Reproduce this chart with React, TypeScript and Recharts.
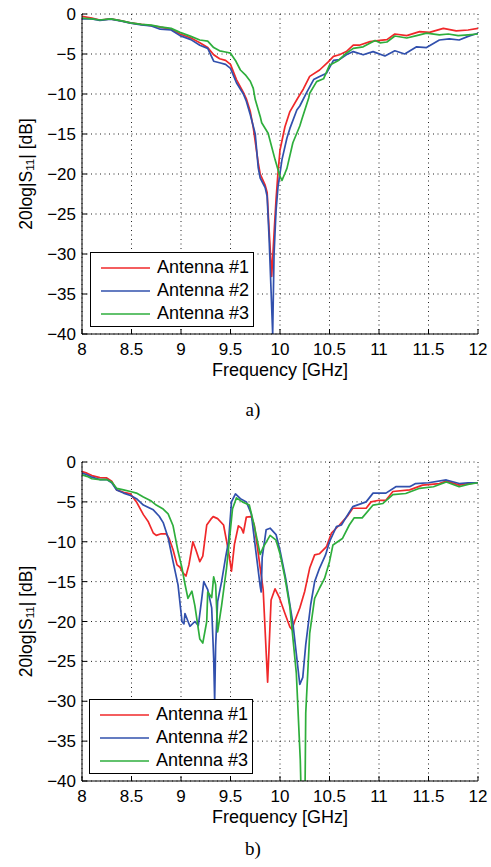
import React from 'react';
import { LineChart, Line, XAxis, YAxis, CartesianGrid, Legend } from 'recharts';

const xTicks = [8, 8.5, 9, 9.5, 10, 10.5, 11, 11.5, 12];
const yTicks = [0, -5, -10, -15, -20, -25, -30, -35, -40];
const seriesNames = ['Antenna #1', 'Antenna #2', 'Antenna #3'];
const seriesColors = ['#f0282a', '#3150ad', '#2eae3c'];
const xLabel = 'Frequency [GHz]';
const panelCaptions = ['a)', 'b)'];

// Panel a) — [frequency GHz, 20log|S11| dB]
const topAntenna1: number[][] = [
  [8.0, -0.3], [8.1, -0.5], [8.18, -0.75], [8.29, -0.6], [8.4, -0.85], [8.49, -1.1], [8.6, -1.3],
  [8.7, -1.45], [8.79, -1.65], [8.9, -1.9], [8.99, -2.5], [9.1, -3.0], [9.19, -3.6], [9.27, -4.2],
  [9.33, -5.1], [9.39, -5.6], [9.45, -5.8], [9.5, -6.3], [9.56, -8.2], [9.63, -9.8], [9.66, -10.6],
  [9.7, -12.2], [9.73, -14.2], [9.78, -18.6], [9.8, -20.0], [9.85, -21.4], [9.87, -22.3], [9.89, -27],
  [9.916, -32.8], [9.94, -27.4], [9.96, -23.2], [9.977, -20.3], [10.0, -17.0], [10.05, -14.1],
  [10.1, -12.2], [10.18, -10.5], [10.235, -9.4], [10.3, -7.8], [10.4, -7.0], [10.49, -5.95],
  [10.54, -5.3], [10.6, -5.1], [10.67, -4.7], [10.74, -3.9], [10.8, -3.9], [10.91, -3.45],
  [11.01, -3.3], [11.08, -3.2], [11.16, -2.5], [11.28, -2.7], [11.41, -2.2], [11.51, -2.3],
  [11.65, -1.8], [11.78, -2.1], [11.9, -2.0], [12.0, -1.8],
];
const topAntenna2: number[][] = [
  [8.0, -0.6], [8.1, -0.6], [8.18, -0.8], [8.29, -0.65], [8.4, -0.9], [8.49, -1.15], [8.6, -1.35],
  [8.7, -1.5], [8.79, -1.9], [8.9, -2.0], [8.99, -2.7], [9.1, -3.2], [9.19, -3.9], [9.27, -4.3],
  [9.33, -5.9], [9.39, -6.1], [9.45, -6.3], [9.5, -6.8], [9.56, -8.6], [9.63, -10.0], [9.66, -10.9],
  [9.7, -12.6], [9.75, -15], [9.78, -19.2], [9.8, -20.5], [9.85, -21.7], [9.87, -22.8], [9.89, -28],
  [9.926, -40], [9.94, -30], [9.96, -24.6], [9.98, -21.6], [10.02, -18.2], [10.07, -15.5],
  [10.1, -14.3], [10.17, -12.0], [10.2, -11.5], [10.27, -9.8], [10.34, -8.2], [10.4, -7.8],
  [10.47, -7.4], [10.54, -5.8], [10.6, -5.7], [10.67, -5.1], [10.74, -4.7], [10.84, -5.1],
  [10.94, -4.7], [11.06, -5.25], [11.16, -4.6], [11.26, -5.0], [11.38, -4.1], [11.48, -4.2],
  [11.61, -3.25], [11.71, -3.1], [11.81, -3.25], [11.9, -2.8], [12.0, -2.4],
];
const topAntenna3: number[][] = [
  [8.0, -0.5], [8.1, -0.6], [8.18, -0.75], [8.29, -0.6], [8.4, -0.85], [8.49, -1.1], [8.6, -1.3],
  [8.7, -1.4], [8.79, -1.6], [8.9, -1.8], [8.99, -2.3], [9.1, -2.8], [9.19, -3.25], [9.27, -3.4],
  [9.33, -4.2], [9.39, -4.6], [9.45, -4.75], [9.5, -4.9], [9.55, -5.8], [9.6, -7.0], [9.65, -7.6],
  [9.7, -8.4], [9.73, -9.3], [9.75, -10.7], [9.8, -12.8], [9.815, -13.6], [9.88, -14.9],
  [9.95, -18.2], [10.0, -20.3], [10.02, -20.8], [10.05, -19.9], [10.07, -19.3], [10.13, -16.1],
  [10.2, -14.0], [10.22, -13.2], [10.29, -10.5], [10.3, -9.9], [10.37, -8.45], [10.44, -8.1],
  [10.5, -6.4], [10.59, -5.8], [10.67, -4.9], [10.74, -4.3], [10.84, -4.1], [10.96, -3.3],
  [11.01, -3.6], [11.08, -3.5], [11.16, -2.75], [11.28, -3.0], [11.38, -2.7], [11.48, -2.4],
  [11.61, -2.6], [11.7, -2.5], [11.8, -2.7], [11.9, -2.6], [12.0, -2.5],
];

// Panel b)
const bottomAntenna1: number[][] = [
  [8.0, -1.2], [8.05, -1.4], [8.1, -1.7], [8.18, -1.95], [8.25, -2.0], [8.3, -2.4], [8.35, -3.5],
  [8.42, -3.8], [8.49, -4.0], [8.55, -5.0], [8.62, -6.6], [8.67, -7.5], [8.72, -8.9], [8.75, -9.2],
  [8.8, -9.0], [8.85, -9.0], [8.88, -9.6], [8.92, -11.0], [8.96, -12.9], [8.99, -13.2], [9.02, -13.9],
  [9.05, -14.3], [9.08, -12.9], [9.12, -10.0], [9.15, -11.0], [9.19, -12.5], [9.22, -11.8],
  [9.26, -7.9], [9.3, -7.2], [9.325, -6.85], [9.37, -7.1], [9.43, -7.9], [9.48, -11.2], [9.51, -13.7],
  [9.54, -10.3], [9.58, -8.0], [9.61, -8.3], [9.63, -8.9], [9.66, -6.9], [9.71, -6.85], [9.74, -7.9],
  [9.77, -10.5], [9.8, -13.3], [9.83, -16.0], [9.86, -23.8], [9.875, -27.6], [9.91, -17.3],
  [9.95, -15.9], [9.99, -16.9], [10.05, -19.0], [10.1, -20.7], [10.12, -21.0], [10.15, -19.9],
  [10.2, -18.3], [10.25, -16.2], [10.3, -13.3], [10.35, -11.65], [10.4, -11.5], [10.47, -10.6],
  [10.52, -8.9], [10.6, -7.9], [10.68, -6.8], [10.735, -5.8], [10.87, -5.8], [10.92, -5.0],
  [11.0, -4.8], [11.07, -4.8], [11.14, -3.7], [11.31, -3.5], [11.44, -2.9], [11.61, -2.7],
  [11.68, -2.4], [11.81, -2.9], [11.9, -2.7], [12.0, -2.6],
];
const bottomAntenna2: number[][] = [
  [8.0, -1.4], [8.05, -1.6], [8.1, -1.9], [8.18, -2.2], [8.25, -2.2], [8.3, -2.6], [8.35, -3.5],
  [8.42, -3.9], [8.49, -4.2], [8.55, -4.6], [8.62, -5.4], [8.72, -6.0], [8.78, -6.8], [8.82, -7.6],
  [8.87, -9.5], [8.92, -12.5], [8.97, -15.4], [9.01, -20.0], [9.03, -20.3], [9.04, -19.0],
  [9.09, -20.6], [9.14, -20.0], [9.175, -20.5], [9.21, -17.1], [9.23, -15.0], [9.27, -16.0],
  [9.31, -18.3], [9.33, -24.6], [9.34, -30], [9.35, -23], [9.37, -17.5], [9.41, -15.0], [9.45, -12.0],
  [9.48, -10.0], [9.51, -5.0], [9.55, -4.0], [9.6, -4.6], [9.66, -5.0], [9.71, -6.5], [9.76, -11.6],
  [9.8, -15.6], [9.81, -16.3], [9.82, -12.0], [9.86, -8.5], [9.9, -8.3], [9.96, -9.1], [10.0, -11.1],
  [10.06, -14.8], [10.13, -20.2], [10.2, -27.9], [10.23, -27], [10.26, -22.9], [10.31, -17.9],
  [10.35, -15.0], [10.4, -13.3], [10.46, -11.65], [10.5, -10.0], [10.57, -8.1], [10.62, -7.9],
  [10.735, -5.6], [10.87, -5.0], [10.94, -3.9], [11.07, -3.9], [11.17, -3.1], [11.31, -3.1],
  [11.37, -2.7], [11.5, -2.6], [11.68, -2.25], [11.81, -2.7], [11.9, -2.6], [12.0, -2.6],
];
const bottomAntenna3: number[][] = [
  [8.0, -1.6], [8.05, -1.8], [8.1, -2.1], [8.18, -2.2], [8.25, -2.2], [8.3, -2.5], [8.35, -3.3],
  [8.42, -3.5], [8.49, -3.7], [8.55, -3.9], [8.62, -4.4], [8.7, -4.9], [8.75, -5.4], [8.82, -5.9],
  [8.87, -6.5], [8.92, -8.0], [8.97, -11.2], [9.01, -13.3], [9.04, -15.3], [9.07, -17.1],
  [9.11, -16.2], [9.14, -18.0], [9.19, -22.2], [9.22, -22.7], [9.26, -20], [9.27, -16.3],
  [9.31, -17], [9.33, -14.4], [9.35, -15.4], [9.37, -21.3], [9.41, -18], [9.46, -13.3], [9.49, -9.6],
  [9.52, -5.9], [9.56, -4.5], [9.62, -5.0], [9.69, -5.4], [9.74, -8.0], [9.8, -11.6], [9.83, -10.7],
  [9.9, -9.2], [9.96, -9.8], [10.0, -11.5], [10.05, -14.5], [10.1, -18.2], [10.165, -26.5],
  [10.205, -37.4], [10.22, -45], [10.25, -45], [10.26, -31.5], [10.3, -21.5], [10.35, -17.1],
  [10.4, -15.8], [10.45, -14.6], [10.5, -12.5], [10.535, -10.4], [10.63, -9.6], [10.7, -7.9],
  [10.75, -7.0], [10.83, -7.0], [10.94, -5.4], [11.04, -5.2], [11.14, -4.1], [11.27, -3.95],
  [11.41, -3.3], [11.55, -3.1], [11.68, -2.5], [11.81, -3.1], [11.9, -2.8], [12.0, -2.6],
];

const FONT = '"Liberation Sans", Arial, Helvetica, sans-serif';

const toData = (pts: number[][]) => pts.map(([f, db]) => ({ f, db }));
const fmtY = (v: number) => (v < 0 ? `\u2212${-v}` : `${v}`);

const YLabel = (props: any) => {
  const vb = props.viewBox || { x: 0, y: 0, width: 82, height: 320 };
  const cx = vb.x + 26;
  const cy = vb.y + vb.height / 2;
  return (
    <text
      x={cx}
      y={cy}
      transform={`rotate(-90, ${cx}, ${cy})`}
      textAnchor="middle"
      dominantBaseline="central"
      fontFamily={FONT}
      fontSize={17.5}
      fill="#000"
    >
      <tspan>20log|S</tspan>
      <tspan fontSize={11.5} dy={4}>11</tspan>
      <tspan dy={-4}>| [dB]</tspan>
    </text>
  );
};

const XLabel = (props: any) => {
  const vb = props.viewBox || { x: 82, y: 334, width: 396, height: 50 };
  return (
    <text
      x={vb.x + vb.width / 2}
      y={vb.y + 42}
      textAnchor="middle"
      fontFamily={FONT}
      fontSize={18}
      fill="#000"
    >
      {xLabel}
    </text>
  );
};

const LegendBox = (props: any) => {
  const payload = (props.payload && props.payload.length === 3)
    ? props.payload.map((p: any) => ({ name: p.value, color: p.color }))
    : seriesNames.map((n, i) => ({ name: n, color: seriesColors[i] }));
  return (
    <div
      style={{
        width: 164,
        height: 75,
        boxSizing: 'border-box',
        border: '1.5px solid #000',
        background: '#fff',
        paddingTop: 3,
        fontFamily: FONT,
        fontSize: 18,
        color: '#000',
      }}
    >
      {payload.map((p: any) => (
        <div key={p.name} style={{ height: 23, display: 'flex', alignItems: 'center' }}>
          <svg width={66} height={6} style={{ display: 'block', flex: '0 0 auto' }}>
            <line x1={10} x2={59} y1={3} y2={3} stroke={p.color} strokeWidth={1.7} />
          </svg>
          <span style={{ lineHeight: '23px', whiteSpace: 'nowrap' }}>{p.name}</span>
        </div>
      ))}
    </div>
  );
};

type PanelProps = {
  series: number[][][];
  top: number;
  height: number;
  marginTop: number;
  marginBottom: number;
  legendTop: number;
  legendLeft: number;
};

const Panel = ({ series, top, height, marginTop, marginBottom, legendTop, legendLeft }: PanelProps) => (
  <div style={{ position: 'absolute', left: 0, top, width: 491, height }}>
    <LineChart
      width={491}
      height={height}
      margin={{ top: marginTop, right: 13, bottom: marginBottom, left: 0 }}
    >
      <CartesianGrid stroke="#222" strokeDasharray="1 3.5" strokeWidth={1} />
      <XAxis
        dataKey="f"
        type="number"
        domain={[8, 12]}
        ticks={xTicks}
        interval={0}
        allowDataOverflow
        height={50}
        tickSize={-5}
        tickMargin={14}
        axisLine={{ stroke: '#000', strokeWidth: 1 }}
        tickLine={{ stroke: '#000' }}
        tick={{ fill: '#000', fontSize: 17, fontFamily: FONT }}
        label={<XLabel />}
      />
      <XAxis
        xAxisId="top"
        orientation="top"
        type="number"
        domain={[8, 12]}
        ticks={xTicks}
        interval={0}
        height={0}
        mirror
        tick={false}
        tickSize={5}
        axisLine={{ stroke: '#000', strokeWidth: 1 }}
        tickLine={{ stroke: '#000' }}
      />
      <YAxis
        type="number"
        domain={[-40, 0]}
        ticks={yTicks}
        interval={0}
        allowDataOverflow
        width={82}
        tickSize={-5}
        tickMargin={11}
        tickFormatter={fmtY}
        axisLine={{ stroke: '#000', strokeWidth: 1 }}
        tickLine={{ stroke: '#000' }}
        tick={{ fill: '#000', fontSize: 17, fontFamily: FONT }}
        label={<YLabel />}
      />
      <YAxis
        yAxisId="right"
        orientation="right"
        type="number"
        domain={[-40, 0]}
        ticks={yTicks}
        interval={0}
        width={0}
        mirror
        tick={false}
        tickSize={5}
        axisLine={{ stroke: '#000', strokeWidth: 1 }}
        tickLine={{ stroke: '#000' }}
      />
      {series.map((pts, i) => (
        <Line
          key={seriesNames[i]}
          name={seriesNames[i]}
          data={toData(pts)}
          dataKey="db"
          type="linear"
          stroke={seriesColors[i]}
          strokeWidth={1.7}
          strokeLinejoin="round"
          dot={false}
          activeDot={false}
          isAnimationActive={false}
        />
      ))}
      <Legend
        layout="horizontal"
        verticalAlign="middle"
        align="center"
        content={<LegendBox />}
        wrapperStyle={{ left: legendLeft, top: legendTop, width: 164, height: 75 }}
      />
    </LineChart>
  </div>
);

const Caption = ({ text, baseline }: { text: string; baseline: number }) => (
  <div
    style={{
      position: 'absolute',
      left: 0,
      width: 491,
      top: baseline - 16,
      textAlign: 'center',
      paddingLeft: 15,
      boxSizing: 'border-box',
      fontFamily: '"Liberation Serif", "Times New Roman", serif',
      fontSize: 19,
      lineHeight: '20px',
      color: '#000',
    }}
  >
    {text}
  </div>
);

export default function App() {
  return (
    <div style={{ position: 'absolute', left: 0, top: 0, width: 491, height: 867, background: '#fff' }}>
      <Panel
        series={[topAntenna1, topAntenna2, topAntenna3]}
        top={0}
        height={400}
        marginTop={14}
        marginBottom={16}
        legendLeft={90}
        legendTop={252}
      />
      <Caption text={panelCaptions[0]} baseline={416} />
      <Panel
        series={[bottomAntenna1, bottomAntenna2, bottomAntenna3]}
        top={440}
        height={427}
        marginTop={22}
        marginBottom={36}
        legendLeft={89}
        legendTop={259}
      />
      <Caption text={panelCaptions[1]} baseline={855} />
    </div>
  );
}
